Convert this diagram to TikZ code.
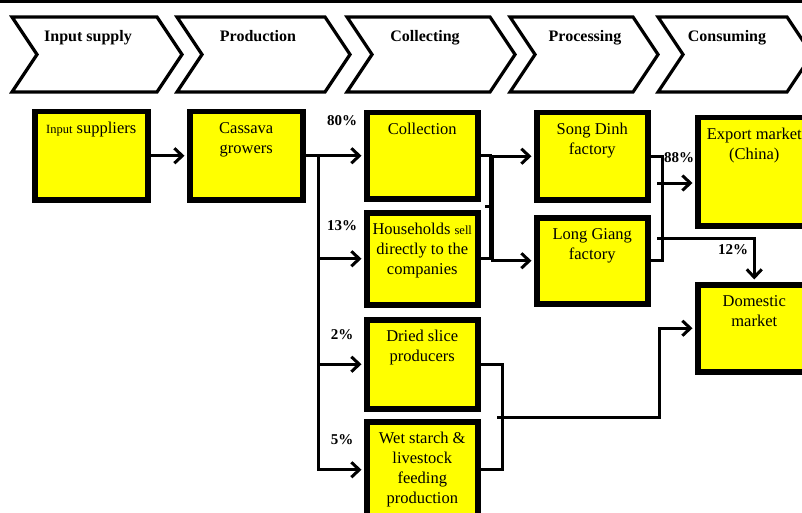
\documentclass[tikz,border=0pt]{standalone}
\usepackage{fontspec}
\setmainfont{Liberation Serif}
\usetikzlibrary{arrows.meta}
\definecolor{ink}{HTML}{000000}
\definecolor{cellfill}{HTML}{FFFF00}
\newcommand{\boxtext}[3]{\parbox[c][#2][t]{#1}{\centering\rule{0pt}{22pt}#3}}

\begin{document}
\begin{tikzpicture}[x=1pt,y=-1pt,>={Straight Barb[length=8pt,width=15pt]},
  cell/.style={draw=ink,line width=5.5pt,fill=cellfill,inner sep=0pt,
    anchor=north west,font=\fontsize{16.5}{20}\selectfont},
  flow/.style={draw=ink,line width=3pt},
  pct/.style={font=\fontsize{15}{18}\selectfont\bfseries}]
  \useasboundingbox (0,0) rectangle (802,513);

  \draw[ink,line width=3pt] (0,1.5) -- (802,1.5);
  \foreach \x/\w/\lx/\stage [count=\i] in {12/145/88/Input supply,
      177/148/258/Production,347/143/425/Collecting,
      510/123/585/Processing,658/129/727/Consuming}{
    \draw[ink,line width=3.2pt,fill=white] (\x,17) -- ++(\w,0) -- ++(25,37.5)
      -- ++(-25,37.5) -- ++(-\w,0) -- ++(25,-37.5) -- cycle;
    \node[font=\fontsize{16}{18}\selectfont\bfseries,anchor=base] (stage\i)
      at (\lx,42) {\stage};
  }

  \node[pct] (p80) at (342,121) {80\%};
  \node[pct] (p13) at (342,226) {13\%};
  \node[pct] (p2) at (342,335) {2\%};
  \node[pct] (p5) at (342,440) {5\%};
  \node[pct] (p88) at (679,158) {88\%};
  \node[pct] (p12) at (733,250) {12\%};

  \node[cell] (inputsup) at (32,109)
    {\boxtext{113pt}{88pt}{{\fontsize{12.5}{20}\selectfont Input} suppliers}};
  \node[cell] (growers) at (187,109) {\boxtext{113pt}{88pt}{Cassava\\growers}};
  \node[cell] (collect) at (364,110) {\boxtext{111pt}{86pt}{Collection}};
  \node[cell] (househ) at (364,210) {\boxtext{111pt}{92pt}{Households
    {\fontsize{12.5}{20}\selectfont sell}\\directly to the\\companies}};
  \node[cell] (dried) at (364,317) {\boxtext{111pt}{89pt}{Dried slice\\producers}};
  \node[cell] (wetstarch) at (364,419)
    {\boxtext{111pt}{96pt}{Wet starch \&\\livestock\\feeding\\production}};
  \node[cell] (songdinh) at (534,110) {\boxtext{111pt}{87pt}{Song Dinh\\factory}};
  \node[cell] (longgiang) at (534,215) {\boxtext{111pt}{86pt}{Long Giang\\factory}};
  \node[cell] (export) at (695,115) {\boxtext{113pt}{108pt}{Export market\\(China)}};
  \node[cell] (domestic) at (695,282) {\boxtext{113pt}{87pt}{Domestic\\market}};

  \draw[flow,->,shorten >=2.5pt] (inputsup.east) -- (growers.west);
  \draw[flow] (growers.east) -- ++(13,0) coordinate (split);
  \draw[flow,->,shorten >=2.5pt] (split) -- (collect.west);
  \draw[flow,->,shorten >=2.5pt] (split) |- (househ.west);
  \draw[flow,->,shorten >=2.5pt] (split) |- (dried.west);
  \draw[flow,->,shorten >=2.5pt] (split) |- (wetstarch.west);

  \draw[flow] (collect.east) -- ++(10,0) |- (househ.east);
  \coordinate (midA) at (485,206);
  \draw[flow] (midA) -- ++(7,0) coordinate (forkA);
  \draw[flow,->,shorten >=2.5pt] (forkA) |- (songdinh.west);
  \draw[flow,->,shorten >=2.5pt] (forkA) |- (longgiang.west);

  \draw[flow] (songdinh.east) -- ++(12,0) |- (longgiang.east);
  \coordinate (forkB) at (657,183);
  \coordinate (forkC) at (657,238);
  \draw[flow,->,shorten >=2.5pt] (forkB) -- (forkB -| export.west);
  \draw[flow,->,shorten >=2.5pt] (forkC) -| (domestic.north);

  \draw[flow] (dried.east) -- ++(22,0) |- (wetstarch.east);
  \coordinate (midD) at (497,417);
  \draw[flow,->,shorten >=2.5pt] (midD) -- ++(162,0) |- (domestic.west);
\end{tikzpicture}
\end{document}
